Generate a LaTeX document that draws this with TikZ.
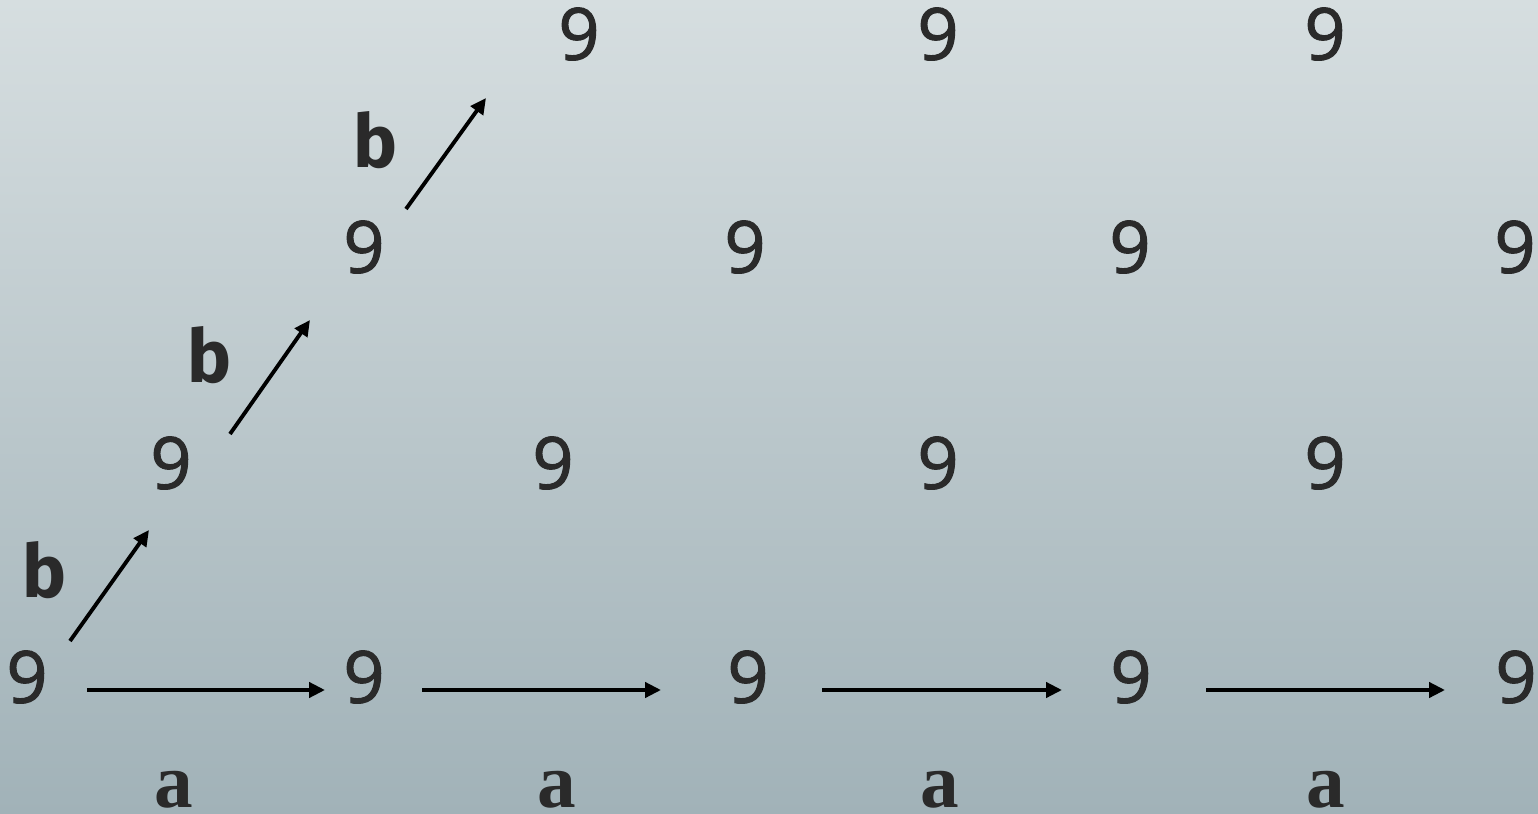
\documentclass[tikz,border=0pt]{standalone}
\usepackage{fontspec}
\setmainfont{Fira Sans}
\newfontfamily\numfont{Open Sans}[FakeBold=1.5]
\newfontfamily\labfont{Liberation Serif}
\usetikzlibrary{arrows.meta,calc}
\definecolor{bgtop}{HTML}{D6DEE0}
\definecolor{bgbot}{HTML}{A1B2B8}
\definecolor{ink}{HTML}{2A2A2A}

\begin{document}
\begin{tikzpicture}[
    x=0.02cm, y=-0.02cm,
    num/.style={inner sep=0pt, text=ink, font=\fontsize{41}{48}\selectfont\numfont},
    blab/.style={inner sep=0pt, text=ink, font=\fontsize{42}{48}\selectfont\bfseries},
    alab/.style={inner sep=0pt, text=ink, font=\fontsize{44}{50}\selectfont\labfont\bfseries},
    arr/.style={-{Triangle[length=9pt, width=8.5pt]}, line width=2.2pt, draw=black}
  ]
    \useasboundingbox (0,0) rectangle (1538,814);
    \shade[top color=bgtop, bottom color=bgbot] (0,0) rectangle (1538,814);

    % bottom row
    \node[num] (r0c0) at (27,677)   {9};
    \node[num] (r0c1) at (364,677)  {9};
    \node[num] (r0c2) at (748,677)  {9};
    \node[num] (r0c3) at (1131,677) {9};
    \node[num] (r0c4) at (1516,677) {9};
    % second row
    \node[num] (r1c0) at (171,463)  {9};
    \node[num] (r1c1) at (553,463)  {9};
    \node[num] (r1c2) at (938,463)  {9};
    \node[num] (r1c3) at (1325,463) {9};
    % third row
    \node[num] (r2c0) at (364,247)  {9};
    \node[num] (r2c1) at (745,247)  {9};
    \node[num] (r2c2) at (1130,247) {9};
    \node[num] (r2c3) at (1515,247) {9};
    % top row
    \node[num] (r3c0) at (579,34)   {9};
    \node[num] (r3c1) at (938,34)   {9};
    \node[num] (r3c2) at (1325,34)  {9};

    % labels
    \node[alab] (a1) at (174,790)  {a};
    \node[alab] (a2) at (557,790)  {a};
    \node[alab] (a3) at (940,790)  {a};
    \node[alab] (a4) at (1326,790) {a};
    \node[blab] (b1) at (45,570)   {b};
    \node[blab] (b2) at (210,355)  {b};
    \node[blab] (b3) at (376,140)  {b};

    \draw[arr] ($(r0c0)+(60,13)$) -- ($(r0c1)+(-39,13)$);
    \draw[arr] ($(r0c1)+(58,13)$) -- ($(r0c2)+(-87,13)$);
    \draw[arr] ($(r0c2)+(74,13)$) -- ($(r0c3)+(-69,13)$);
    \draw[arr] ($(r0c3)+(75,13)$) -- ($(r0c4)+(-71,13)$);

    \draw[arr] ($(r0c0)+(43,-36)$) -- ($(r1c0)+(-22,67)$);
    \draw[arr] ($(r1c0)+(59,-29)$) -- ($(r2c0)+(-54,73)$);
    \draw[arr] ($(r2c0)+(42,-38)$) -- ($(r3c0)+(-93,64)$);
  \end{tikzpicture}
\end{document}
